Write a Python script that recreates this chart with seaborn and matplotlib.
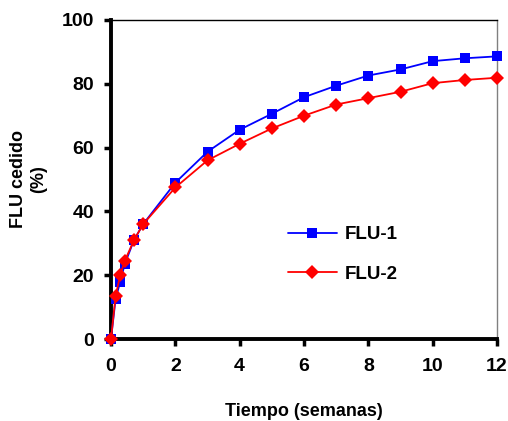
import matplotlib
matplotlib.use("Agg")
import matplotlib.pyplot as plt
import seaborn as sns
import pandas as pd

tiempo = [0, 1/7, 2/7, 3/7, 5/7, 1, 2, 3, 4, 5, 6, 7, 8, 9, 10, 11, 12]
flu1 = [0, 12.5, 18, 23.5, 31, 36, 49, 58.7, 65.6, 70.6, 75.8, 79.4, 82.6, 84.5, 87.1, 88.0, 88.6]
flu2 = [0, 13.5, 20, 24.5, 31, 36, 47.5, 56, 61.2, 66, 70, 73.5, 75.5, 77.5, 80.2, 81.2, 81.9]
series = ["FLU-1", "FLU-2"]

df = pd.concat([
    pd.DataFrame({"t": tiempo, "v": flu1, "s": series[0]}),
    pd.DataFrame({"t": tiempo, "v": flu2, "s": series[1]}),
])

sns.set_style("ticks")
plt.rcParams["font.family"] = ["Liberation Sans", "DejaVu Sans"]
plt.rcParams["font.weight"] = "bold"
plt.rcParams["text.color"] = "black"
plt.rcParams["axes.labelcolor"] = "black"
plt.rcParams["xtick.color"] = "black"
plt.rcParams["ytick.color"] = "black"

fig = plt.figure(figsize=(5.08, 4.21), dpi=100)
ax = fig.add_axes([111/508, 1 - 339/421, (497 - 111)/508, (339 - 20)/421])

sns.lineplot(data=df, x="t", y="v", hue="s", style="s",
             palette={"FLU-1": "#0000FF", "FLU-2": "#FF0000"},
             markers={"FLU-1": "s", "FLU-2": "D"}, dashes=False,
             markersize=7.5, linewidth=1.3, markeredgewidth=0, ax=ax)
for ln in ax.lines:
    ln.set_clip_on(False)
    ln.set_zorder(5)

ax.set_xlim(0, 12)
ax.set_ylim(0, 100)
ax.set_xticks(range(0, 13, 2))
ax.set_yticks(range(0, 101, 20))
ax.tick_params(axis="both", labelsize=14, width=2.5, length=5, direction="out",
               colors="black")
ax.tick_params(axis="x", pad=9)
ax.tick_params(axis="y", pad=7)
for lab in ax.get_xticklabels() + ax.get_yticklabels():
    lab.set_fontweight("bold")

for s in ["left", "bottom"]:
    ax.spines[s].set_linewidth(2.8)
    ax.spines[s].set_color("black")
ax.spines["top"].set_linewidth(1.0)
ax.spines["top"].set_color("black")
ax.spines["right"].set_linewidth(1.0)
ax.spines["right"].set_color("#808080")
for s in ax.spines.values():
    s.set_visible(True)

ax.set_xlabel("Tiempo (semanas)", fontsize=13, fontweight="bold", labelpad=20)
ax.set_ylabel("FLU cedido\n(%)", fontsize=13, fontweight="bold", labelpad=11)

handles, labels = ax.get_legend_handles_labels()
if ax.get_legend():
    ax.get_legend().remove()
leg = fig.legend(handles, labels, loc="center left",
                 bbox_to_anchor=(288/508, 1 - 254.5/421),
                 frameon=False, fontsize=13.5, handlelength=2.6, labelspacing=1.2,
                 handletextpad=0.4, borderpad=0, borderaxespad=0)
for t in leg.get_texts():
    t.set_fontweight("bold")

fig.savefig("out.png", dpi=100)
